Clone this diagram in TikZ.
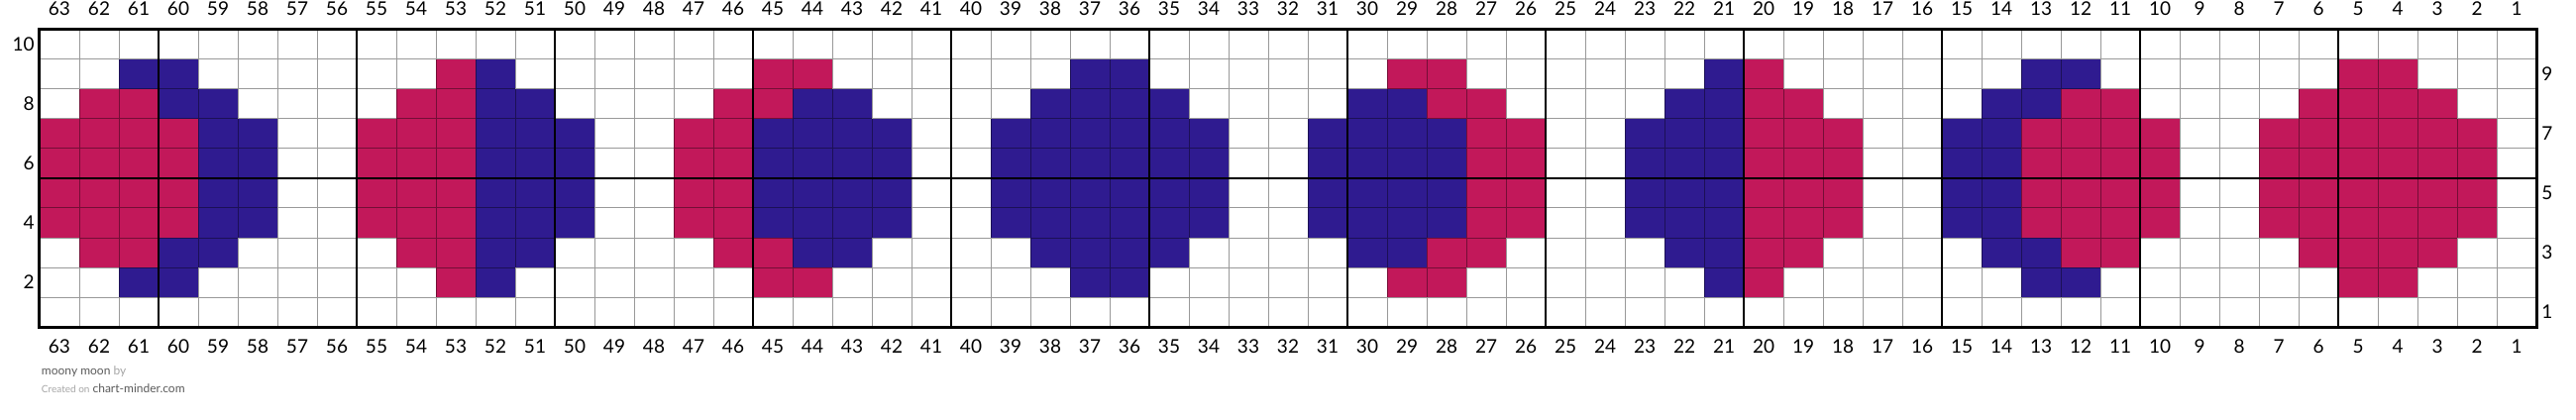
\documentclass[tikz,border=0pt]{standalone}
\usepackage{fontspec}
\setmainfont{Lato}
\usepackage{xcolor}
\usepackage{tikz}
\definecolor{moonpink}{RGB}{194, 24, 90}
\definecolor{moonblue}{RGB}{47, 27, 144}
\definecolor{footdark}{RGB}{90, 90, 90}
\definecolor{footlight}{RGB}{165, 165, 165}

\begin{document}
\begin{tikzpicture}[
    x=20pt, y=15pt,
    every node/.style={font=\fontsize{9.5}{11}\selectfont, inner sep=0pt},
    gridline/.style={black, opacity=0.4, line width=0.5pt, xstep=20pt, ystep=15pt},
    blockline/.style={black, line width=1pt},
    frame/.style={black, line width=1.5pt},
    footnote/.style={font=\fontsize{6}{7}\selectfont, anchor=base west}
]
\useasboundingbox (-1,-3.1) rectangle (64,11);

% Moons: index / split per row (rows 9 to 2) / left colour / right colour
\foreach \k/\phase/\lc/\rc in {
    0/{2,3,4,4,4,4,3,2}/moonpink/moonblue,
    1/{3,3,3,3,3,3,3,3}/moonpink/moonblue,
    2/{4,3,2,2,2,2,3,4}/moonpink/moonblue,
    3/{0,0,0,0,0,0,0,0}/moonpink/moonblue,
    4/{2,3,4,4,4,4,3,2}/moonblue/moonpink,
    5/{3,3,3,3,3,3,3,3}/moonblue/moonpink,
    6/{4,3,2,2,2,2,3,4}/moonblue/moonpink,
    7/{0,0,0,0,0,0,0,0}/moonblue/moonpink} {
  \foreach \t [count=\i] in \phase {
    \pgfmathtruncatemacro\r{10-\i}
    \pgfmathtruncatemacro\lo{(\r==9 || \r==2) ? 2 : ((\r==8 || \r==3) ? 1 : 0)}
    \pgfmathtruncatemacro\hi{5-\lo}
    \foreach \o in {\lo,...,\hi} {
      \pgfmathtruncatemacro\x{8*\k+\o}
      \ifnum\o<\t \def\c{\lc}\else\def\c{\rc}\fi
      \fill[fill=\c] (\x,\r-1) rectangle (\x+1,\r);
    }
  }
}

% Grid
\draw[gridline] (0,0) grid (63,10);
\foreach \x in {3,8,...,58}
  \draw[blockline] (\x,0) -- (\x,10);
\draw[blockline] (0,5) -- (63,5);
\draw[frame] (0,0) rectangle (63,10);

% Stitch numbers
\foreach \c in {1,...,63} {
  \node[anchor=base] (top\c) at (63.5-\c,10.48) {\c};
  \node[anchor=base] (bot\c) at (63.5-\c,-0.87) {\c};
}

% Row numbers
\foreach \r in {2,4,...,10}
  \node[anchor=east] (rowl\r) at (-0.125,\r-0.5) {\r};
\foreach \r in {1,3,...,9}
  \node[anchor=west] (rowr\r) at (63.125,\r-0.5) {\r};

% Footer
\node[footnote] (title) at (0.04,-1.633) {\textcolor{footdark}{moony moon} \textcolor{footlight}{by}};
\node[footnote] (credit) at (0.04,-2.22) {\textcolor{footlight}{\fontsize{5}{6}\selectfont Created on} \textcolor{footdark}{chart-minder.com}};

\end{tikzpicture}
\end{document}
